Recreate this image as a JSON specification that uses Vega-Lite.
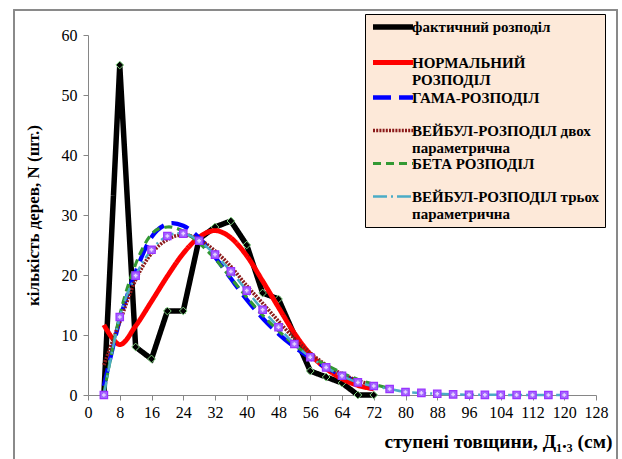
{
  "$schema": "https://vega.github.io/schema/vega-lite/v6.json",
  "width": 508,
  "height": 360,
  "autosize": {"type": "none"},
  "padding": {"left": 88, "top": 35, "right": 26, "bottom": 64},
  "background": "#ffffff",
  "config": {
    "view": {"stroke": null},
    "font": "Liberation Serif",
    "axis": {
      "grid": false,
      "domainColor": "#868686",
      "tickColor": "#868686",
      "tickSize": 5,
      "labelFont": "Liberation Serif",
      "labelFontSize": 16,
      "labelColor": "#000000",
      "titleFont": "Liberation Serif",
      "titleFontWeight": "bold",
      "titleFontSize": 17,
      "titleColor": "#000000"
    },
    "legend": {
      "labelFont": "Liberation Serif",
      "labelFontWeight": "bold",
      "labelFontSize": 15,
      "labelColor": "#000000"
    }
  },
  "data": {
    "values": [
      {"s": "фактичний розподіл", "d": 4, "n": 0},
      {"s": "фактичний розподіл", "d": 8, "n": 55},
      {"s": "фактичний розподіл", "d": 12, "n": 8},
      {"s": "фактичний розподіл", "d": 16, "n": 6},
      {"s": "фактичний розподіл", "d": 20, "n": 14},
      {"s": "фактичний розподіл", "d": 24, "n": 14},
      {"s": "фактичний розподіл", "d": 28, "n": 26},
      {"s": "фактичний розподіл", "d": 32, "n": 28},
      {"s": "фактичний розподіл", "d": 36, "n": 29},
      {"s": "фактичний розподіл", "d": 40, "n": 25},
      {"s": "фактичний розподіл", "d": 44, "n": 17},
      {"s": "фактичний розподіл", "d": 48, "n": 16},
      {"s": "фактичний розподіл", "d": 52, "n": 10},
      {"s": "фактичний розподіл", "d": 56, "n": 4},
      {"s": "фактичний розподіл", "d": 60, "n": 3},
      {"s": "фактичний розподіл", "d": 64, "n": 2},
      {"s": "фактичний розподіл", "d": 68, "n": 0},
      {"s": "фактичний розподіл", "d": 72, "n": 0},

      {"s": "НОРМАЛЬНИЙ|РОЗПОДІЛ", "d": 4, "n": 11.7},
      {"s": "НОРМАЛЬНИЙ|РОЗПОДІЛ", "d": 8, "n": 8.4},
      {"s": "НОРМАЛЬНИЙ|РОЗПОДІЛ", "d": 12, "n": 11.5},
      {"s": "НОРМАЛЬНИЙ|РОЗПОДІЛ", "d": 16, "n": 15.6},
      {"s": "НОРМАЛЬНИЙ|РОЗПОДІЛ", "d": 20, "n": 19.8},
      {"s": "НОРМАЛЬНИЙ|РОЗПОДІЛ", "d": 24, "n": 23.6},
      {"s": "НОРМАЛЬНИЙ|РОЗПОДІЛ", "d": 28, "n": 26.3},
      {"s": "НОРМАЛЬНИЙ|РОЗПОДІЛ", "d": 32, "n": 27.4},
      {"s": "НОРМАЛЬНИЙ|РОЗПОДІЛ", "d": 36, "n": 26.2},
      {"s": "НОРМАЛЬНИЙ|РОЗПОДІЛ", "d": 40, "n": 23.2},
      {"s": "НОРМАЛЬНИЙ|РОЗПОДІЛ", "d": 44, "n": 19.0},
      {"s": "НОРМАЛЬНИЙ|РОЗПОДІЛ", "d": 48, "n": 14.6},
      {"s": "НОРМАЛЬНИЙ|РОЗПОДІЛ", "d": 52, "n": 10.3},
      {"s": "НОРМАЛЬНИЙ|РОЗПОДІЛ", "d": 56, "n": 6.8},
      {"s": "НОРМАЛЬНИЙ|РОЗПОДІЛ", "d": 60, "n": 4.4},
      {"s": "НОРМАЛЬНИЙ|РОЗПОДІЛ", "d": 64, "n": 2.7},
      {"s": "НОРМАЛЬНИЙ|РОЗПОДІЛ", "d": 68, "n": 1.6},
      {"s": "НОРМАЛЬНИЙ|РОЗПОДІЛ", "d": 72, "n": 1.0},

      {"s": "ГАМА-РОЗПОДІЛ", "d": 4, "n": 1.5},
      {"s": "ГАМА-РОЗПОДІЛ", "d": 8, "n": 12.5},
      {"s": "ГАМА-РОЗПОДІЛ", "d": 12, "n": 20.5},
      {"s": "ГАМА-РОЗПОДІЛ", "d": 16, "n": 26.3},
      {"s": "ГАМА-РОЗПОДІЛ", "d": 20, "n": 28.5},
      {"s": "ГАМА-РОЗПОДІЛ", "d": 24, "n": 28.2},
      {"s": "ГАМА-РОЗПОДІЛ", "d": 28, "n": 26.2},
      {"s": "ГАМА-РОЗПОДІЛ", "d": 32, "n": 23.0},
      {"s": "ГАМА-РОЗПОДІЛ", "d": 36, "n": 19.4},
      {"s": "ГАМА-РОЗПОДІЛ", "d": 40, "n": 15.9},
      {"s": "ГАМА-РОЗПОДІЛ", "d": 44, "n": 12.8},
      {"s": "ГАМА-РОЗПОДІЛ", "d": 48, "n": 10.2},
      {"s": "ГАМА-РОЗПОДІЛ", "d": 52, "n": 8.0},
      {"s": "ГАМА-РОЗПОДІЛ", "d": 56, "n": 6.2},
      {"s": "ГАМА-РОЗПОДІЛ", "d": 60, "n": 4.6},
      {"s": "ГАМА-РОЗПОДІЛ", "d": 64, "n": 3.3},
      {"s": "ГАМА-РОЗПОДІЛ", "d": 68, "n": 2.3},
      {"s": "ГАМА-РОЗПОДІЛ", "d": 72, "n": 1.6},

      {"s": "ВЕЙБУЛ-РОЗПОДІЛ двох|параметрична", "d": 4, "n": 5.0},
      {"s": "ВЕЙБУЛ-РОЗПОДІЛ двох|параметрична", "d": 8, "n": 12.2},
      {"s": "ВЕЙБУЛ-РОЗПОДІЛ двох|параметрична", "d": 12, "n": 19.2},
      {"s": "ВЕЙБУЛ-РОЗПОДІЛ двох|параметрична", "d": 16, "n": 23.6},
      {"s": "ВЕЙБУЛ-РОЗПОДІЛ двох|параметрична", "d": 20, "n": 25.9},
      {"s": "ВЕЙБУЛ-РОЗПОДІЛ двох|параметрична", "d": 24, "n": 26.7},
      {"s": "ВЕЙБУЛ-РОЗПОДІЛ двох|параметрична", "d": 28, "n": 25.9},
      {"s": "ВЕЙБУЛ-РОЗПОДІЛ двох|параметрична", "d": 32, "n": 24.0},
      {"s": "ВЕЙБУЛ-РОЗПОДІЛ двох|параметрична", "d": 36, "n": 21.4},
      {"s": "ВЕЙБУЛ-РОЗПОДІЛ двох|параметрична", "d": 40, "n": 18.2},
      {"s": "ВЕЙБУЛ-РОЗПОДІЛ двох|параметрична", "d": 44, "n": 15.3},
      {"s": "ВЕЙБУЛ-РОЗПОДІЛ двох|параметрична", "d": 48, "n": 12.3},
      {"s": "ВЕЙБУЛ-РОЗПОДІЛ двох|параметрична", "d": 52, "n": 9.4},
      {"s": "ВЕЙБУЛ-РОЗПОДІЛ двох|параметрична", "d": 56, "n": 7.0},
      {"s": "ВЕЙБУЛ-РОЗПОДІЛ двох|параметрична", "d": 60, "n": 5.0},
      {"s": "ВЕЙБУЛ-РОЗПОДІЛ двох|параметрична", "d": 64, "n": 3.5},
      {"s": "ВЕЙБУЛ-РОЗПОДІЛ двох|параметрична", "d": 68, "n": 2.4},
      {"s": "ВЕЙБУЛ-РОЗПОДІЛ двох|параметрична", "d": 72, "n": 1.6},

      {"s": "БЕТА РОЗПОДІЛ", "d": 4, "n": 0.3},
      {"s": "БЕТА РОЗПОДІЛ", "d": 8, "n": 13.3},
      {"s": "БЕТА РОЗПОДІЛ", "d": 12, "n": 21.8},
      {"s": "БЕТА РОЗПОДІЛ", "d": 16, "n": 26.8},
      {"s": "БЕТА РОЗПОДІЛ", "d": 20, "n": 28.0},
      {"s": "БЕТА РОЗПОДІЛ", "d": 24, "n": 27.3},
      {"s": "БЕТА РОЗПОДІЛ", "d": 28, "n": 25.3},
      {"s": "БЕТА РОЗПОДІЛ", "d": 32, "n": 22.7},
      {"s": "БЕТА РОЗПОДІЛ", "d": 36, "n": 19.5},
      {"s": "БЕТА РОЗПОДІЛ", "d": 40, "n": 16.3},
      {"s": "БЕТА РОЗПОДІЛ", "d": 44, "n": 13.3},
      {"s": "БЕТА РОЗПОДІЛ", "d": 48, "n": 10.7},
      {"s": "БЕТА РОЗПОДІЛ", "d": 52, "n": 8.4},
      {"s": "БЕТА РОЗПОДІЛ", "d": 56, "n": 6.5},
      {"s": "БЕТА РОЗПОДІЛ", "d": 60, "n": 5.0},
      {"s": "БЕТА РОЗПОДІЛ", "d": 64, "n": 3.7},
      {"s": "БЕТА РОЗПОДІЛ", "d": 68, "n": 2.6},
      {"s": "БЕТА РОЗПОДІЛ", "d": 72, "n": 1.8},
      {"s": "БЕТА РОЗПОДІЛ", "d": 76, "n": 1.1},

      {"s": "ВЕЙБУЛ-РОЗПОДІЛ трьох|параметрична", "d": 4, "n": 0},
      {"s": "ВЕЙБУЛ-РОЗПОДІЛ трьох|параметрична", "d": 8, "n": 13.0},
      {"s": "ВЕЙБУЛ-РОЗПОДІЛ трьох|параметрична", "d": 12, "n": 19.9},
      {"s": "ВЕЙБУЛ-РОЗПОДІЛ трьох|параметрична", "d": 16, "n": 24.2},
      {"s": "ВЕЙБУЛ-РОЗПОДІЛ трьох|параметрична", "d": 20, "n": 26.5},
      {"s": "ВЕЙБУЛ-РОЗПОДІЛ трьох|параметрична", "d": 24, "n": 26.9},
      {"s": "ВЕЙБУЛ-РОЗПОДІЛ трьох|параметрична", "d": 28, "n": 25.7},
      {"s": "ВЕЙБУЛ-РОЗПОДІЛ трьох|параметрична", "d": 32, "n": 23.4},
      {"s": "ВЕЙБУЛ-РОЗПОДІЛ трьох|параметрична", "d": 36, "n": 20.6},
      {"s": "ВЕЙБУЛ-РОЗПОДІЛ трьох|параметрична", "d": 40, "n": 17.4},
      {"s": "ВЕЙБУЛ-РОЗПОДІЛ трьох|параметрична", "d": 44, "n": 14.2},
      {"s": "ВЕЙБУЛ-РОЗПОДІЛ трьох|параметрична", "d": 48, "n": 11.3},
      {"s": "ВЕЙБУЛ-РОЗПОДІЛ трьох|параметрична", "d": 52, "n": 8.5},
      {"s": "ВЕЙБУЛ-РОЗПОДІЛ трьох|параметрична", "d": 56, "n": 6.3},
      {"s": "ВЕЙБУЛ-РОЗПОДІЛ трьох|параметрична", "d": 60, "n": 4.6},
      {"s": "ВЕЙБУЛ-РОЗПОДІЛ трьох|параметрична", "d": 64, "n": 3.2},
      {"s": "ВЕЙБУЛ-РОЗПОДІЛ трьох|параметрична", "d": 68, "n": 2.1},
      {"s": "ВЕЙБУЛ-РОЗПОДІЛ трьох|параметрична", "d": 72, "n": 1.5},
      {"s": "ВЕЙБУЛ-РОЗПОДІЛ трьох|параметрична", "d": 76, "n": 1.0},
      {"s": "ВЕЙБУЛ-РОЗПОДІЛ трьох|параметрична", "d": 80, "n": 0.5},
      {"s": "ВЕЙБУЛ-РОЗПОДІЛ трьох|параметрична", "d": 84, "n": 0.35},
      {"s": "ВЕЙБУЛ-РОЗПОДІЛ трьох|параметрична", "d": 88, "n": 0.2},
      {"s": "ВЕЙБУЛ-РОЗПОДІЛ трьох|параметрична", "d": 92, "n": 0.1},
      {"s": "ВЕЙБУЛ-РОЗПОДІЛ трьох|параметрична", "d": 96, "n": 0.05},
      {"s": "ВЕЙБУЛ-РОЗПОДІЛ трьох|параметрична", "d": 100, "n": 0.03},
      {"s": "ВЕЙБУЛ-РОЗПОДІЛ трьох|параметрична", "d": 104, "n": 0.02},
      {"s": "ВЕЙБУЛ-РОЗПОДІЛ трьох|параметрична", "d": 108, "n": 0.01},
      {"s": "ВЕЙБУЛ-РОЗПОДІЛ трьох|параметрична", "d": 112, "n": 0},
      {"s": "ВЕЙБУЛ-РОЗПОДІЛ трьох|параметрична", "d": 116, "n": 0},
      {"s": "ВЕЙБУЛ-РОЗПОДІЛ трьох|параметрична", "d": 120, "n": 0}
    ]
  },
  "encoding": {
    "x": {
      "field": "d",
      "type": "quantitative",
      "scale": {"domain": [0, 128], "nice": false, "zero": false},
      "axis": {
        "values": [0, 8, 16, 24, 32, 40, 48, 56, 64, 72, 80, 88, 96, 104, 112, 120, 128],
        "labelFont": "Liberation Serif",
        "labelFontSize": 16,
        "labelPadding": 4,
        "labelFlush": false,
        "title": "ступені товщини, Д₁.₃ (см)",
        "titleFont": "Liberation Serif",
        "titleFontSize": 19.5,
        "titleAnchor": "end",
        "titleAlign": "right",
        "titleBaseline": "alphabetic",
        "titleX": 524,
        "titleY": 52
      }
    },
    "y": {
      "field": "n",
      "type": "quantitative",
      "scale": {"domain": [0, 60], "nice": false},
      "axis": {
        "values": [0, 10, 20, 30, 40, 50, 60],
        "labelFont": "Liberation Serif",
        "labelFontSize": 16,
        "labelPadding": 6,
        "title": "кількість дерев, N (шт.)",
        "titleFont": "Liberation Serif",
        "titleX": -55,
        "titleY": 180,
        "titleAlign": "center",
        "titleBaseline": "middle"
      }
    }
  },
  "layer": [
    {
      "mark": {"type": "rect", "fill": null, "stroke": "#8a8a8a", "strokeWidth": 1, "clip": false},
      "encoding": {
        "x": {"datum": -18.6},
        "x2": {"datum": 133.3},
        "y": {"datum": 64.2},
        "y2": {"datum": -12.5}
      }
    },
    {
      "transform": [{"filter": "datum.s == 'фактичний розподіл'"}],
      "mark": {"type": "line", "interpolate": "linear", "strokeJoin": "miter"},
      "encoding": {
        "color": {"field": "s", "type": "nominal", "scale": {"domain": ["фактичний розподіл", "НОРМАЛЬНИЙ|РОЗПОДІЛ", "ГАМА-РОЗПОДІЛ", "ВЕЙБУЛ-РОЗПОДІЛ двох|параметрична", "БЕТА РОЗПОДІЛ", "ВЕЙБУЛ-РОЗПОДІЛ трьох|параметрична"], "range": ["#000000", "#ff0000", "#0000ff", "#8b1a1a", "#339933", "#4bacc6"]}},
        "strokeDash": {"field": "s", "type": "nominal", "scale": {"domain": ["фактичний розподіл", "НОРМАЛЬНИЙ|РОЗПОДІЛ", "ГАМА-РОЗПОДІЛ", "ВЕЙБУЛ-РОЗПОДІЛ двох|параметрична", "БЕТА РОЗПОДІЛ", "ВЕЙБУЛ-РОЗПОДІЛ трьох|параметрична"], "range": [[1, 0], [1, 0], [18, 8], [2, 1.2], [8, 5], [14, 4, 2, 4]]}},
        "strokeWidth": {"field": "s", "type": "nominal", "scale": {"domain": ["фактичний розподіл", "НОРМАЛЬНИЙ|РОЗПОДІЛ", "ГАМА-РОЗПОДІЛ", "ВЕЙБУЛ-РОЗПОДІЛ двох|параметрична", "БЕТА РОЗПОДІЛ", "ВЕЙБУЛ-РОЗПОДІЛ трьох|параметрична"], "range": [5.5, 2.5, 4.5, 3.5, 2.5, 3]}}
      }
    },
    {
      "transform": [{"filter": "datum.s == 'фактичний розподіл'"}],
      "mark": {"type": "point", "shape": "diamond", "filled": true, "fill": "#000000", "stroke": "#7fd27f", "strokeWidth": 1, "size": 60, "opacity": 1}
    },
    {
      "transform": [{"filter": "datum.s != 'фактичний розподіл'"}],
      "mark": {"type": "line", "interpolate": "cardinal"},
      "encoding": {
        "color": {"field": "s", "type": "nominal", "legend": {
          "orient": "none",
          "legendX": 277,
          "legendY": -21,
          "title": null,
          "fillColor": "#fde9d9",
          "strokeColor": "#000000",
          "padding": 5,
          "symbolType": "M-1,0H7",
          "symbolSize": 100,
          "symbolOffset": 0,
          "labelFont": "Liberation Serif",
          "labelFontWeight": "bold",
          "labelFontSize": 15,
          "labelColor": "#000000",
          "labelLimit": 300,
          "labelOffset": 26,
          "labelBaseline": "alphabetic",
          "rowPadding": 0,
          "labelExpr": "indexof(datum.label, '|') < 0 ? [datum.label, ' '] : split(datum.label, '|')",
          "encode": {"labels": {"update": {"lineHeight": {"value": 17}, "dy": {"value": 5}, "font": {"value": "Liberation Serif"}}}}
        }},
        "strokeDash": {"field": "s", "type": "nominal"},
        "strokeWidth": {"field": "s", "type": "nominal"}
      }
    },
    {
      "transform": [{"filter": "datum.s == 'ВЕЙБУЛ-РОЗПОДІЛ трьох|параметрична'"}],
      "mark": {"type": "point", "shape": "square", "filled": true, "fill": "#a366ff", "stroke": "#9933ff", "strokeWidth": 1.2, "size": 55, "opacity": 1}
    },
    {
      "transform": [{"filter": "datum.s == 'ВЕЙБУЛ-РОЗПОДІЛ трьох|параметрична'"}],
      "mark": {"type": "point", "shape": "cross", "filled": true, "fill": "#e6d4ff", "strokeWidth": 0, "size": 14, "opacity": 1}
    }
  ]
}
